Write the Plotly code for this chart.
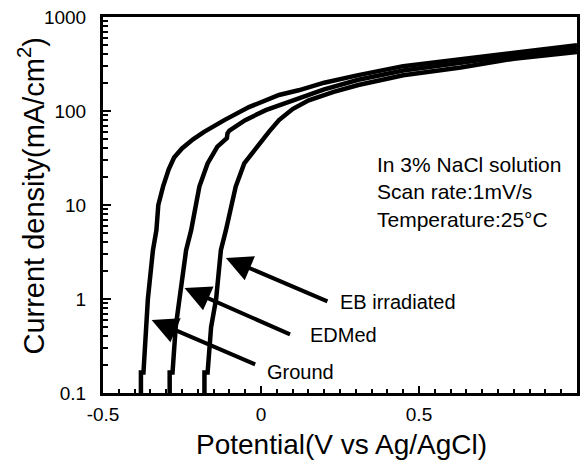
import numpy as np
import plotly.graph_objects as go

# ---- data ----
ground_x = [-0.380, -0.380, -0.372, -0.366, -0.358, -0.342, -0.331, -0.325, -0.310, -0.292,
            -0.275, -0.250, -0.215, -0.180, -0.116, -0.038, 0.057, 0.119, 0.200, 0.308,
            0.450, 0.632, 0.800, 1.000]
ground_y = [0.1, 0.165, 0.165, 0.4, 1.0, 3.3, 5.4, 10, 15.7, 24,
            32, 40, 50, 60, 80, 110, 148, 166, 200, 241,
            300, 355, 420, 500]

edmed_x = [-0.289, -0.289, -0.280, -0.270, -0.258, -0.237, -0.221, -0.205, -0.195, -0.169,
           -0.138, -0.108, -0.106, -0.100, -0.050, 0.015, 0.119, 0.200, 0.308, 0.450,
           0.632, 0.800, 1.000]
edmed_y = [0.1, 0.165, 0.165, 0.5, 1.0, 3.3, 5.4, 10, 15.7, 27.7,
           41.7, 51.5, 58, 62, 80, 102, 137, 170, 215, 270,
           325, 390, 460]

eb_x = [-0.179, -0.179, -0.169, -0.158, -0.142, -0.127, -0.111, -0.092, -0.080, -0.053,
        -0.017, 0.025, 0.057, 0.100, 0.151, 0.230, 0.308, 0.450, 0.632, 0.800, 1.000]
eb_y = [0.1, 0.165, 0.165, 0.5, 1.0, 3.3, 5.4, 10, 15.7, 27.7,
        40, 60, 80, 105, 130, 160, 189, 240, 290, 360, 425]

series_names = ["Ground", "EDMed", "EB irradiated"]
y_tickvals = [0.1, 1, 10, 100, 1000]
y_ticktext = ["0.1", "1", "10", "100", "1000"]
x_tickvals = [-0.5, 0, 0.5, 1]
x_ticktext = ["-0.5", "0", "0.5", "1"]

# minor tick positions
x_minor = [round(-0.5 + 0.05 * i, 2) for i in range(31)]
y_minor = [m * 10.0 ** d for d in range(-1, 3) for m in range(2, 10)]

FONT = "Liberation Sans, Arial, sans-serif"

fig = go.Figure()
for xs, ys, nm in [(ground_x, ground_y, series_names[0]),
                   (edmed_x, edmed_y, series_names[1]),
                   (eb_x, eb_y, series_names[2])]:
    fig.add_trace(go.Scatter(x=xs, y=ys, mode="lines", name=nm,
                             line=dict(color="black", width=4.5),
                             showlegend=False))

axis_common = dict(showgrid=False, zeroline=False, showline=True, linecolor="black",
                   linewidth=3, mirror=True, ticks="inside", tickcolor="black",
                   tickwidth=2, automargin=False,
                   tickfont=dict(family=FONT, size=19, color="black"))

fig.update_xaxes(range=[-0.5, 1.0], tickmode="array", tickvals=x_tickvals,
                 ticktext=x_ticktext, ticklen=7, ticklabelstandoff=2,
                 minor=dict(tickmode="array", tickvals=x_minor, ticks="inside",
                            ticklen=4, tickwidth=2, tickcolor="black", showgrid=False),
                 **axis_common)
fig.update_yaxes(type="log", range=[-1, 3], tickmode="array", tickvals=y_tickvals,
                 ticktext=y_ticktext, ticklen=8, ticklabelstandoff=10,
                 minor=dict(tickmode="array", tickvals=y_minor, ticks="inside",
                            ticklen=5, tickwidth=2, tickcolor="black", showgrid=False),
                 **axis_common)

annotations = []
# arrows (head positions in data coords, log10 for y)
arrow_specs = [(-0.346, 0.598, 105, 45), (-0.242, 1.31, 107, 47), (-0.111, 2.73, 103, 44)]
for hx, hy, dx, dy in arrow_specs:
    annotations.append(dict(x=hx, y=np.log10(hy), xref="x", yref="y", text="",
                            showarrow=True, ax=dx, ay=dy, axref="pixel", ayref="pixel",
                            arrowhead=2, arrowsize=1.3, arrowwidth=4, arrowcolor="black"))
# labels
label_specs = [(0.013, 0.167, series_names[0]), (0.150, 0.414, series_names[1]),
               (0.245, 0.93, series_names[2])]
for lx, ly, txt in label_specs:
    annotations.append(dict(x=lx, y=np.log10(ly), xref="x", yref="y", text=txt,
                            showarrow=False, xanchor="left", yanchor="middle",
                            font=dict(family=FONT, size=20, color="black")))
# condition text
annotations.append(dict(x=0.362, y=1.57, xref="x", yref="y",
                        text="In 3% NaCl solution<br>Scan rate:1mV/s<br>Temperature:25°C",
                        showarrow=False, xanchor="left", yanchor="top", align="left",
                        font=dict(family=FONT, size=21, color="black")))
# axis titles
annotations.append(dict(x=-0.152, y=0.525, xref="paper", yref="paper",
                        text="Current density(mA/cm<sup>2</sup>)", textangle=-90,
                        showarrow=False, xanchor="center", yanchor="middle",
                        font=dict(family=FONT, size=29, color="black")))
annotations.append(dict(x=0.504, y=-0.136, xref="paper", yref="paper",
                        text="Potential(V vs Ag/AgCl)",
                        showarrow=False, xanchor="center", yanchor="middle",
                        font=dict(family=FONT, size=28, color="black")))

fig.update_layout(width=581, height=460, margin=dict(l=103, r=4, t=17, b=67),
                  paper_bgcolor="white", plot_bgcolor="white",
                  annotations=annotations, showlegend=False)

fig.write_html("out.html", config={"displayModeBar": False},
               post_script="document.body.style.margin='0';"
                           "document.body.style.overflow='hidden';")
